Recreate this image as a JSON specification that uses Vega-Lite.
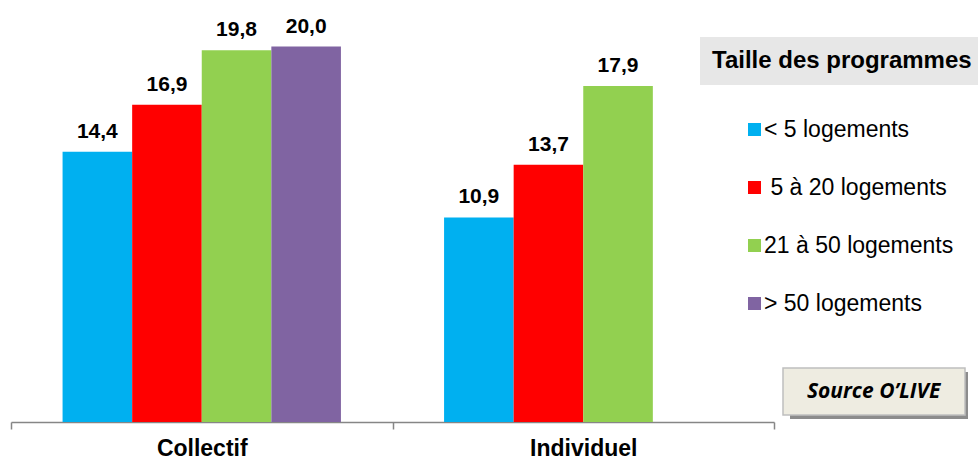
{
  "$schema": "https://vega.github.io/schema/vega-lite/v6.json",
  "width": 763,
  "height": 413,
  "padding": {"left": 10, "top": 9, "right": 0, "bottom": 0},
  "autosize": {"type": "pad"},
  "config": {
    "view": {"stroke": null},
    "font": "Liberation Sans",
    "legend": {"strokeWidth": 1.5},
    "locale": {"number": {"decimal": ",", "thousands": " ", "grouping": [3], "currency": ["", " €"]}}
  },
  "data": {
    "values": [
      {"groupe": "Collectif", "taille": "< 5 logements", "valeur": 14.4},
      {"groupe": "Collectif", "taille": "\u200b\u00a05 à 20 logements", "valeur": 16.9},
      {"groupe": "Collectif", "taille": "21 à 50 logements", "valeur": 19.8},
      {"groupe": "Collectif", "taille": "> 50 logements", "valeur": 20.0},
      {"groupe": "Individuel", "taille": "< 5 logements", "valeur": 10.9},
      {"groupe": "Individuel", "taille": "\u200b\u00a05 à 20 logements", "valeur": 13.7},
      {"groupe": "Individuel", "taille": "21 à 50 logements", "valeur": 17.9}
    ]
  },
  "encoding": {
    "x": {
      "field": "groupe",
      "type": "nominal",
      "sort": ["Collectif", "Individuel"],
      "scale": {"paddingInner": 0, "paddingOuter": 0},
      "axis": {
        "title": null,
        "labelAngle": 0,
        "tickBand": "extent",
        "domainColor": "#868686",
        "domainWidth": 1.6,
        "tickColor": "#868686",
        "tickWidth": 1.5,
        "tickSize": 7,
        "labelFontSize": 23,
        "labelFontWeight": "bold",
        "labelColor": "black",
        "labelBaseline": "alphabetic",
        "labelPadding": 26
      }
    },
    "xOffset": {
      "field": "taille",
      "type": "nominal",
      "scale": {
        "domain": ["< 5 logements", "\u200b\u00a05 à 20 logements", "21 à 50 logements", "> 50 logements"],
        "paddingInner": 0,
        "paddingOuter": 0.741
      }
    },
    "y": {
      "field": "valeur",
      "type": "quantitative",
      "scale": {"domain": [0, 22], "nice": false, "zero": true},
      "axis": null
    }
  },
  "layer": [
    {
      "mark": {"type": "bar"},
      "encoding": {
        "color": {
          "field": "taille",
          "type": "nominal",
          "scale": {
            "domain": ["< 5 logements", "\u200b\u00a05 à 20 logements", "21 à 50 logements", "> 50 logements"],
            "range": ["#00B0F0", "#FF0000", "#92D050", "#8064A2"]
          },
          "legend": {
            "orient": "none",
            "legendX": 732,
            "legendY": 109,
            "title": null,
            "symbolType": "square",
            "symbolSize": 169,
            "symbolStrokeWidth": 0,
            "symbolOpacity": 1,
            "labelFontSize": 23,
            "labelColor": "black",
            "labelOffset": -2,
            "labelLimit": 400,
            "rowPadding": 34,
            "padding": 0
          }
        },
        "strokeDash": {
          "field": "groupe",
          "type": "nominal",
          "sort": "descending",
          "scale": {"range": [[1, 0], [1, 0]]},
          "legend": {
            "orient": "none",
            "legendX": 779,
            "legendY": 363,
            "title": "\u200b\u00a0\u00a0\u00a0\u00a0\u00a0\u00a0\u00a0\u00a0\u00a0\u00a0\u00a0\u00a0\u200b",
            "titleFont": "DejaVu Sans Mono",
            "titleFontSize": 21,
            "titleColor": "#8C8C8C",
            "titleLimit": 400,
            "fillColor": "#8C8C8C",
            "padding": 13,
            "values": []
          }
        },
        "strokeWidth": {
          "field": "valeur",
          "type": "ordinal",
          "scale": {"range": [0, 0]},
          "legend": {
            "orient": "none",
            "legendX": 772,
            "legendY": 359,
            "title": "\u200b\u00a0\u00a0Source O’LIVE\u00a0\u00a0\u200b",
            "titleFont": "Open Sans",
            "titleFontStyle": "italic",
            "titleFontWeight": "bold",
            "titleFontSize": 21,
            "titleColor": "black",
            "titleLimit": 400,
            "fillColor": "#EEECE1",
            "strokeColor": "#BFBFBF",
            "padding": 13,
            "values": []
          }
        }
      }
    },
    {
      "mark": {
        "type": "text",
        "baseline": "alphabetic",
        "dy": -14,
        "fontSize": 21,
        "fontWeight": "bold",
        "color": "black"
      },
      "encoding": {
        "text": {"field": "valeur", "type": "quantitative", "format": ".1f"},
        "opacity": {
          "field": "groupe",
          "type": "ordinal",
          "scale": {"range": [1, 1]},
          "legend": {
            "orient": "none",
            "legendX": 689,
            "legendY": 28,
            "title": "Taille des programmes",
            "titleFontSize": 24,
            "titleFontWeight": "bold",
            "titleColor": "black",
            "titleLimit": 500,
            "fillColor": "#E7E7E7",
            "padding": 12,
            "values": []
          }
        }
      }
    }
  ]
}
